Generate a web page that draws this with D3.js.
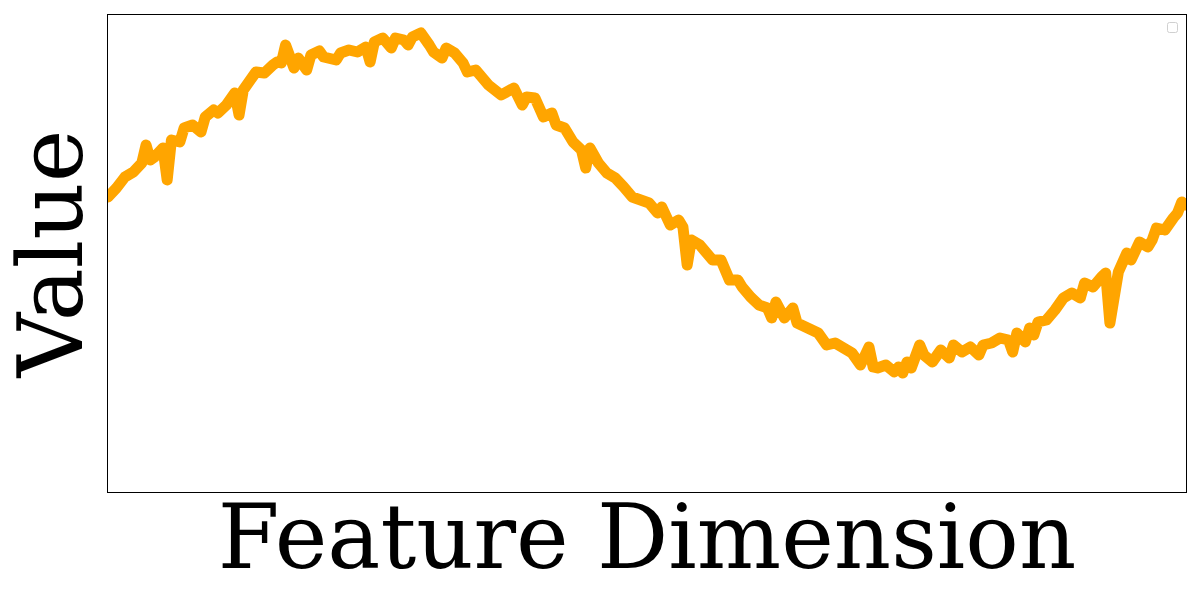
<!DOCTYPE html>
<html>
<head>
<meta charset="utf-8">
<script src="https://cdn.jsdelivr.net/npm/d3@7"></script>
<style>
    body { margin: 0; background: #fff; }
</style>
</head>
<body>
<div id="chart"></div>
<script>
// Feature index (0..255) and value
const featureIdx = [
    0, 2, 4, 6, 8, 9, 10, 11, 13, 14, 15, 17, 18, 20, 22, 23, 25, 26, 28, 30,
    31, 32, 34, 35, 37, 39, 40, 41, 42, 44, 45, 47, 48, 50, 51, 54, 55, 57, 59, 61,
    62, 63, 65, 67, 68, 70, 71, 72, 74, 76, 77, 79, 80, 82, 84, 85, 87, 88, 90, 93,
    96, 98, 99, 101, 103, 105, 106, 108, 110, 112, 113, 114, 116, 118, 120, 122, 124, 126, 128, 130,
    131, 133, 135, 136, 137, 138, 140, 142, 143, 145, 147, 149, 150, 152, 154, 156, 157, 158, 160, 162,
    163, 165, 168, 170, 172, 174, 176, 178, 180, 181, 182, 184, 186, 187, 188, 189, 190, 192, 193, 195,
    197, 199, 200, 202, 204, 206, 207, 209, 211, 213, 214, 215, 217, 218, 219, 220, 222, 224, 226, 228,
    230, 231, 233, 235, 236, 237, 239, 241, 242, 244, 246, 247, 248, 250, 252, 253, 254, 255
];
const values = [
    0.08, 0.17, 0.28, 0.33, 0.42, 0.60, 0.45, 0.48, 0.57, 0.25, 0.65, 0.63, 0.77, 0.80, 0.73, 0.88, 0.95, 0.92, 1.00, 1.12,
    0.90, 1.15, 1.27, 1.33, 1.32, 1.40, 1.43, 1.42, 1.60, 1.37, 1.47, 1.35, 1.50, 1.54, 1.48, 1.45, 1.52, 1.55, 1.53, 1.58,
    1.43, 1.63, 1.67, 1.57, 1.67, 1.65, 1.60, 1.68, 1.72, 1.60, 1.53, 1.47, 1.57, 1.52, 1.42, 1.33, 1.35, 1.30, 1.20, 1.10,
    1.17, 1.00, 1.08, 1.07, 0.88, 0.92, 0.80, 0.77, 0.63, 0.55, 0.37, 0.57, 0.42, 0.32, 0.27, 0.18, 0.08, 0.05, 0.02, -0.08,
    -0.02, -0.20, -0.15, -0.22, -0.60, -0.35, -0.40, -0.50, -0.55, -0.55, -0.75, -0.75, -0.82, -0.92, -1.00, -1.03, -1.13, -0.97, -1.13, -1.03,
    -1.18, -1.22, -1.28, -1.40, -1.38, -1.43, -1.48, -1.60, -1.42, -1.62, -1.63, -1.60, -1.67, -1.62, -1.68, -1.57, -1.63, -1.40, -1.50, -1.57,
    -1.45, -1.53, -1.40, -1.47, -1.42, -1.50, -1.40, -1.38, -1.33, -1.35, -1.47, -1.28, -1.37, -1.23, -1.30, -1.17, -1.15, -1.05, -0.93, -0.88,
    -0.93, -0.78, -0.82, -0.72, -0.68, -1.18, -0.67, -0.48, -0.55, -0.37, -0.42, -0.35, -0.23, -0.25, -0.13, -0.08, 0.03, 0.00
];
const xDomain = [0, 255];
const yDomain = [-2.87, 1.90];
const xLabel = "Feature Dimension";
const yLabel = "Value";

const margin = {top: 15, right: 14, bottom: 108, left: 108};
const width = 1200 - margin.left - margin.right;
const height = 600 - margin.top - margin.bottom;

const svg = d3.select("#chart")
    .append("svg")
    .attr("width", 1200)
    .attr("height", 600);

const g = svg.append("g")
    .attr("transform", "translate(" + margin.left + "," + margin.top + ")");

const x = d3.scaleLinear().domain(xDomain).range([0, width]);
const y = d3.scaleLinear().domain(yDomain).range([height, 0]);

g.append("clipPath")
    .attr("id", "plot-clip")
    .append("rect")
    .attr("width", width)
    .attr("height", height);

const points = featureIdx.map((f, i) => ({f: f, v: values[i]}));

const line = d3.line()
    .x(d => x(d.f))
    .y(d => y(d.v));

g.append("path")
    .datum(points)
    .attr("clip-path", "url(#plot-clip)")
    .attr("fill", "none")
    .attr("stroke", "#ffa500")
    .attr("stroke-width", 11)
    .attr("stroke-linejoin", "round")
    .attr("stroke-linecap", "round")
    .attr("d", line);

// marco de los ejes, sin marcas
g.append("rect")
    .attr("x", -0.5)
    .attr("y", -0.5)
    .attr("width", width + 1)
    .attr("height", height + 1)
    .attr("fill", "none")
    .attr("stroke", "#000")
    .attr("stroke-width", 1);

// leyenda vacía
g.append("rect")
    .attr("x", width - 18.5)
    .attr("y", 7.5)
    .attr("width", 10)
    .attr("height", 10)
    .attr("rx", 2)
    .attr("fill", "#fff")
    .attr("stroke", "#d0d0d0")
    .attr("stroke-width", 1);

svg.append("text")
    .attr("x", margin.left + width / 2)
    .attr("y", 568)
    .attr("text-anchor", "middle")
    .style("font-family", "'DejaVu Serif', serif")
    .style("font-size", "89px")
    .text(xLabel);

svg.append("text")
    .attr("transform", "translate(82," + (margin.top + height / 2) + ") rotate(-90)")
    .attr("text-anchor", "middle")
    .style("font-family", "'DejaVu Serif', serif")
    .style("font-size", "89px")
    .text(yLabel);
</script>
</body>
</html>
